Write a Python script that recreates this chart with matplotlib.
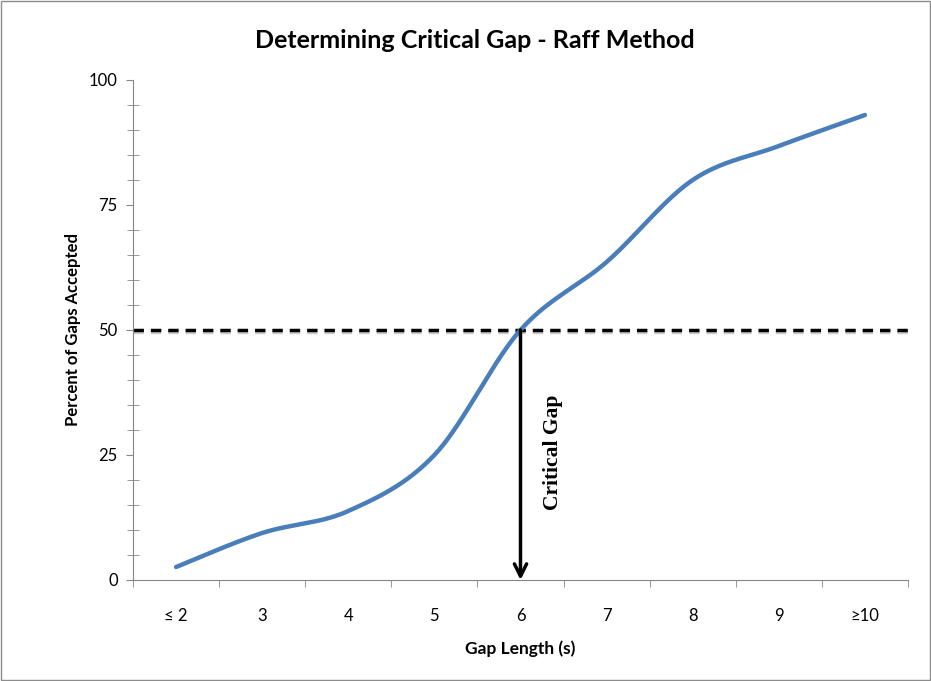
# Raff法による臨界ギャップの決定
import numpy as np
from matplotlib import pyplot as plt

# --------------------------------------------
# データ
# --------------------------------------------
categories = ["≤ 2", "3", "4", "5", "6", "7", "8", "9", "≥10"]
percent_accepted = [2.6, 9.4, 13.8, 25.0, 50.0, 63.6, 80.0, 86.8, 93.0]
critical_index = 4
critical_value = 50


# Excel風の平滑化（Catmull-Rom -> ベジェ）
def smooth_curve(xs, ys, n=40):
    xs = np.asarray(xs, float)
    ys = np.asarray(ys, float)
    px = np.concatenate([[xs[0]], xs, [xs[-1]]])
    py = np.concatenate([[ys[0]], ys, [ys[-1]]])
    out_x, out_y = [], []
    t = np.linspace(0, 1, n)
    for i in range(1, len(px) - 2):
        p0 = np.array([px[i], py[i]])
        p3 = np.array([px[i + 1], py[i + 1]])
        p1 = p0 + (np.array([px[i + 1], py[i + 1]]) - np.array([px[i - 1], py[i - 1]])) / 6
        p2 = p3 - (np.array([px[i + 2], py[i + 2]]) - np.array([px[i], py[i]])) / 6
        b = ((1 - t) ** 3)[:, None] * p0 + (3 * (1 - t) ** 2 * t)[:, None] * p1 \
            + (3 * (1 - t) * t ** 2)[:, None] * p2 + (t ** 3)[:, None] * p3
        out_x.extend(b[:, 0])
        out_y.extend(b[:, 1])
    return out_x, out_y


plt.rcParams['font.family'] = ['Lato', 'DejaVu Sans']

fig = plt.figure(figsize=(9.31, 6.81), dpi=100)
fig.patches.append(plt.Rectangle((0.001, 0.001), 0.998, 0.998, transform=fig.transFigure,
                                 fill=False, edgecolor="#8c8c8c", linewidth=1))
ax = fig.add_axes([133 / 931, 1 - 580 / 681, 775 / 931, 500 / 681])

x = np.arange(len(categories))
sx, sy = smooth_curve(x, percent_accepted)
ax.plot(sx, sy, color="#4a7ebb", linewidth=3.2, solid_capstyle="round", zorder=3)

# 50%の破線（影つき）
ax.plot([-0.5, len(categories) - 0.5], [critical_value - 0.5] * 2, color="#cccccc",
        linewidth=2.5, linestyle=(0, (3, 2)), zorder=1)
ax.plot([-0.5, len(categories) - 0.5], [critical_value] * 2, color="black",
        linewidth=2.5, linestyle=(0, (3, 2)), zorder=2)

# 矢印
ax.annotate("", xy=(critical_index, 0), xytext=(critical_index, critical_value),
            arrowprops=dict(arrowstyle="->", color="black", lw=2.5,
                            mutation_scale=22, shrinkA=0, shrinkB=0), zorder=4)
ax.text(critical_index + 0.38, 25.6, "Critical Gap", rotation=90, ha="center", va="center",
        fontsize=15.5, fontweight="bold", family=["Liberation Serif", "DejaVu Serif"])

ax.set_xlim(-0.5, len(categories) - 0.5)
ax.set_ylim(0, 100)
ax.set_xticks(x)
ax.set_xticklabels(categories, fontsize=12)
ax.set_xticks(np.arange(-0.5, len(categories), 1), minor=True)
ax.tick_params(axis="x", which="major", length=0, pad=20)
ax.tick_params(axis="x", which="minor", length=5, color="#868686", direction="out")
ax.set_yticks([0, 25, 50, 75, 100])
ax.set_yticks(np.arange(0, 101, 5), minor=True)
ax.tick_params(axis="y", which="both", color="#868686", labelsize=12)
ax.tick_params(axis="y", which="minor", direction="inout", length=8)
ax.tick_params(axis="y", which="major", direction="out", length=5, pad=6)

for side in ["top", "right"]:
    ax.spines[side].set_visible(False)
for side in ["left", "bottom"]:
    ax.spines[side].set_color("#868686")

ax.set_xlabel("Gap Length (s)", fontsize=12.5, fontweight="bold", labelpad=12)
ax.set_ylabel("Percent of Gaps Accepted", fontsize=12, fontweight="bold", labelpad=6)
fig.text(475 / 931, 1 - 40 / 681, "Determining Critical Gap - Raff Method",
         fontsize=18, fontweight="bold", ha="center", va="center")

plt.savefig("out.png", dpi=100)
